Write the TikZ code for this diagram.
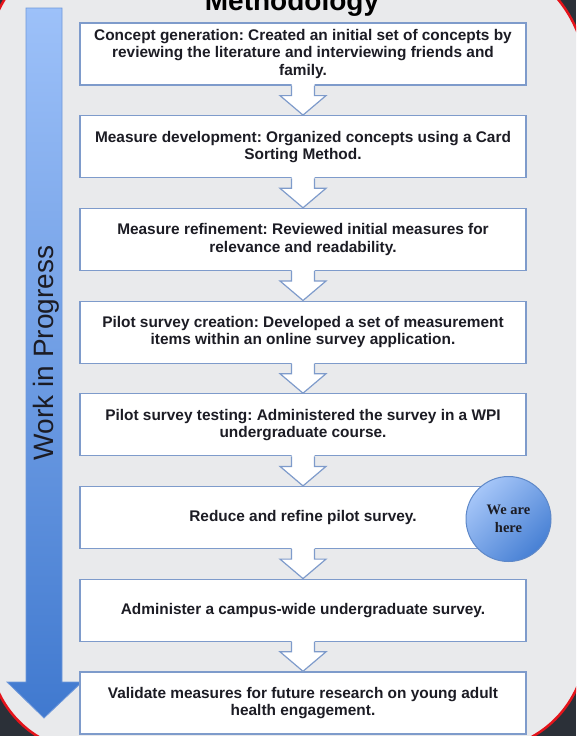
\documentclass[tikz,border=0pt]{standalone}
\usepackage{fontspec}
\setmainfont{Liberation Sans}
\newfontfamily\cambriaish{Liberation Serif}
\usetikzlibrary{calc,shapes.geometric}
\frenchspacing
\definecolor{darkbg}{HTML}{2B3038}
\definecolor{panel}{HTML}{E9EAEC}
\definecolor{frame}{HTML}{E5141B}
\definecolor{boxline}{HTML}{7E9BCB}
\definecolor{txt}{HTML}{1C1C24}
\definecolor{arrtop}{HTML}{9DC1F9}
\definecolor{arrbot}{HTML}{4079CF}
\definecolor{arrline}{HTML}{6F98DA}
\definecolor{circtop}{HTML}{A6C6F8}
\definecolor{circbot}{HTML}{4780D4}
\definecolor{circline}{HTML}{5E88C8}
\tikzset{
  stepbox/.style={draw=boxline, line width=1.2pt, fill=white,
    minimum width=446pt, minimum height=62pt, align=center, inner sep=0pt,
    text=txt, font=\fontsize{15.4}{17.3}\selectfont\bfseries},
  hollowline/.style={draw=boxline, line width=1.2pt, line join=miter},
}
\begin{document}
\begin{tikzpicture}[x=1pt,y=-1pt]
\useasboundingbox (0,0) rectangle (576,736);
\clip (0,0) rectangle (576,736);
\fill[darkbg] (0,0) rectangle (576,736);
% panel
\draw[fill=panel, draw=frame, line width=2.5pt]
  (-10,50) .. controls (-10,-2.5) and (32.5,-45) .. (85,-45)
  -- (464,-45) .. controls (531.4,-45) and (586,9.6) .. (586,77)
  -- (586,645) .. controls (586,703) and (539,750) .. (481,750)
  -- (85,750) .. controls (32.5,750) and (-10,702.5) .. (-10,655) -- cycle;
% title
\node[anchor=base, font=\fontsize{28}{30}\selectfont\bfseries, text=black] (title) at (292,10.5) {Methodology};
% big arrow
\draw[top color=arrtop, bottom color=arrbot, draw=arrline, line width=0.8pt]
  (26,8) -- (62,8) -- (62,682) -- (82,682) -- (44,718) -- (7,682) -- (26,682) -- cycle;
\node[rotate=90, anchor=base, font=\fontsize{28}{30}\selectfont, text=txt] (wip) at (53,353) {Work in Progress};
% boxes
\node[stepbox] (b1) at (303,54) {Concept generation: Created an initial set of concepts by\\reviewing the literature and interviewing friends and\\family.};
\node[stepbox] (b2) at (303,146.7) {Measure development: Organized concepts using a Card\\Sorting Method.};
\node[stepbox] (b3) at (303,239.4) {Measure refinement: Reviewed initial measures for\\relevance and readability.};
\node[stepbox] (b4) at (303,332.1) {Pilot survey creation: Developed a set of measurement\\items within an online survey application.};
\node[stepbox] (b5) at (303,424.8) {Pilot survey testing: Administered the survey in a WPI\\undergraduate course.};
\node[stepbox] (b6) at (303,517.5) {Reduce and refine pilot survey.};
\node[stepbox] (b7) at (303,610.2) {Administer a campus-wide undergraduate survey.};
\node[stepbox] (b8) at (303,702.9) {Validate measures for future research on young adult\\health engagement.};
% hollow arrows
\foreach \a/\b in {b1/b2,b2/b3,b3/b4,b4/b5,b5/b6,b6/b7,b7/b8}{
  \fill[white] ($(\a.south)+(-11.5,-1.4)$) -- ++(0,11.4) -- ++(-11.5,0) -- (\b.north)
     -- ($(\a.south)+(23,10)$) -- ++(-11.5,0) -- ++(0,-11.4) -- cycle;
  \draw[hollowline] ($(\a.south)+(-11.5,0)$) -- ++(0,10) -- ++(-11.5,0) -- (\b.north)
     -- ($(\a.south)+(23,10)$) -- ++(-11.5,0) -- ++(0,-10);
}
% we are here
\node[circle, minimum size=85pt, inner sep=0pt, draw=circline, line width=1pt,
  top color=circtop, bottom color=circbot, shading angle=45,
  font=\cambriaish\bfseries\fontsize{14.5}{18}\selectfont, text=txt, align=center] (here) at (508.5,519) {We are\\here};
\end{tikzpicture}
\end{document}
